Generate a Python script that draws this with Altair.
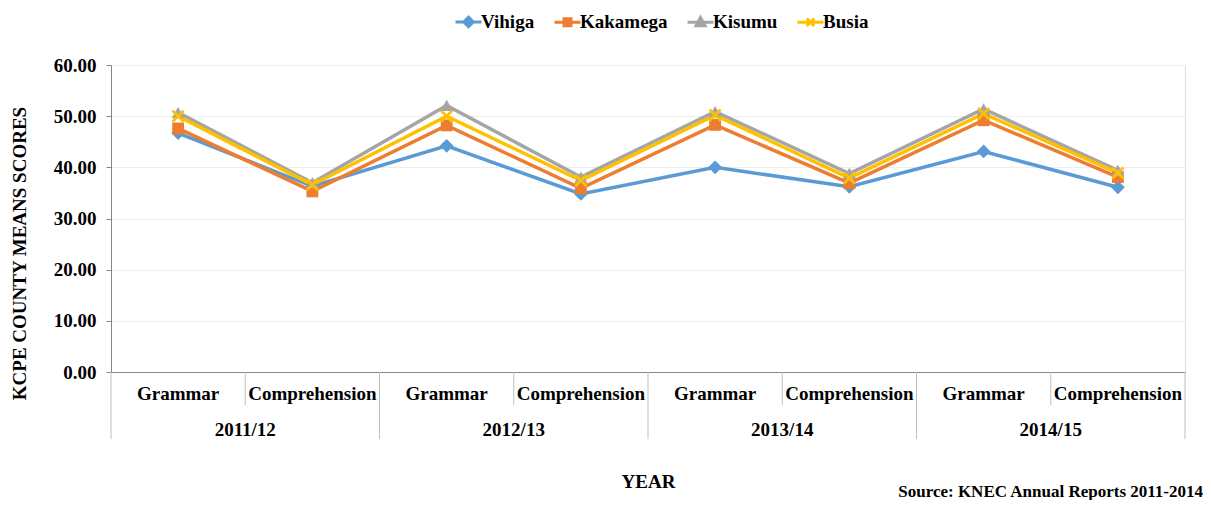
import altair as alt
import pandas as pd

# ---- data ----
series = ["Vihiga", "Kakamega", "Kisumu", "Busia"]
colors = ["#5B9BD5", "#ED7D31", "#A5A5A5", "#FFC000"]
categories = ["Grammar", "Comprehension", "Grammar", "Comprehension",
              "Grammar", "Comprehension", "Grammar", "Comprehension"]
cat_years = ["2011/12", "2011/12", "2012/13", "2012/13",
             "2013/14", "2013/14", "2014/15", "2014/15"]
vihiga = [46.7, 36.3, 44.2, 34.8, 40.0, 36.2, 43.1, 36.1]
kakamega = [47.6, 35.3, 48.2, 35.9, 48.3, 36.9, 49.2, 38.1]
kisumu = [50.7, 37.0, 52.1, 38.1, 50.9, 38.8, 51.4, 39.4]
busia = [50.0, 36.6, 50.0, 37.4, 50.2, 37.9, 50.5, 38.9]
y_ticks = [0, 10, 20, 30, 40, 50, 60]
source_text = "Source: KNEC Annual Reports 2011-2014"

values = {"Vihiga": vihiga, "Kakamega": kakamega, "Kisumu": kisumu, "Busia": busia}
rows = []
for s in series:
    for i, v in enumerate(values[s]):
        rows.append({"Series": s, "idx": i, "value": v,
                     "cat": categories[i], "year": cat_years[i]})
df = pd.DataFrame(rows)

cat_df = pd.DataFrame({"idx": list(range(len(categories))),
                       "cat": categories, "year": cat_years})

bounds = []
for i in range(len(categories) + 1):
    b = i - 0.5
    if i == 0 or i == len(categories) or cat_years[i] != cat_years[i - 1]:
        kind = "long"
    else:
        kind = "short"
    bounds.append({"b": b, "kind": kind})
bounds_df = pd.DataFrame(bounds)

W, H = 1074, 307
PAD_L, PAD_T, PAD_R, PAD_B = 103, 57, 18, 128
FONT = "Liberation Serif"
AX = "#868686"

xscale = alt.Scale(domain=[-0.5, len(categories) - 0.5], nice=False, zero=False)
xenc = alt.X("idx:Q", scale=xscale,
             axis=alt.Axis(labels=False, ticks=False, grid=False, domain=True,
                           domainColor=AX, title="YEAR", titleFont=FONT,
                           titleFontSize=19, titleFontWeight="bold",
                           titleColor="black", titleY=109,
                           titleBaseline="middle"))
yenc = alt.Y("value:Q", scale=alt.Scale(domain=[0, 60], nice=False),
             axis=alt.Axis(values=y_ticks, format=".2f", labelFont=FONT,
                           labelFontSize=19, labelFontWeight="bold",
                           labelColor="black", tickSize=5, tickColor=AX,
                           domainColor=AX, gridColor="#eeeeee", labelPadding=10,
                           title="KCPE COUNTY MEANS SCORES", titleFont=FONT,
                           titleFontSize=19, titleFontWeight="bold",
                           titleColor="black", titleX=-92, titleY=188,
                           titleAngle=-90, titleBaseline="middle"))

color_scale = alt.Scale(domain=series, range=colors)
x_path = "M-1,-0.7L-0.7,-1L0,-0.3L0.7,-1L1,-0.7L0.3,0L1,0.7L0.7,1L0,0.3L-0.7,1L-1,0.7L-0.3,0Z"
marker_shapes = ["diamond", "square", "triangle-up", x_path]
marker_sizes = [190, 140, 170, 170]

# legend symbols: a line through the marker
u = 2.6
legend_paths = [
    f"M-{u},0L{u},0M0,-0.95L0.95,0L0,0.95L-0.95,0Z",
    f"M-{u},0L{u},0M-0.7,-0.7H0.7V0.7H-0.7Z",
    f"M-{u},0L{u},0M0,-0.95L0.9,0.7H-0.9Z",
    f"M-{u},0L{u},0M-0.75,-0.75L0.75,0.75M0.75,-0.75L-0.75,0.75",
]
legend_shape_scale = alt.Scale(domain=series, range=legend_paths)

legend = alt.Legend(orient="none", legendX=348, legendY=-53,
                    direction="horizontal", title=None, labelFont=FONT,
                    labelFontSize=19, labelFontWeight="bold", labelColor="black",
                    symbolSize=100, symbolStrokeWidth=3, labelOffset=3,
                    columnPadding=13, padding=0, symbolOpacity=1)

long_rules = alt.Chart(bounds_df).transform_filter(alt.datum.kind == "long").mark_rule(
    color="#bfbfbf", strokeWidth=1).encode(
    x=alt.X("b:Q", scale=xscale), y=alt.value(H), y2=alt.value(H + 67))
short_rules = alt.Chart(bounds_df).transform_filter(alt.datum.kind == "short").mark_rule(
    color="#bfbfbf", strokeWidth=1).encode(
    x=alt.X("b:Q", scale=xscale), y=alt.value(H), y2=alt.value(H + 33))

cat_text = alt.Chart(cat_df).mark_text(
    font=FONT, fontSize=19, fontWeight="bold", color="black",
    baseline="middle").encode(x=alt.X("idx:Q", scale=xscale),
                              y=alt.value(H + 22), text="cat:N")
year_text = alt.Chart(cat_df).transform_aggregate(
    mid="mean(idx)", groupby=["year"]).mark_text(
    font=FONT, fontSize=19, fontWeight="bold", color="black",
    baseline="middle").encode(x=alt.X("mid:Q", scale=xscale),
                              y=alt.value(H + 58), text="year:N")

lines = alt.Chart(df).mark_line(strokeWidth=3.5).encode(
    x=xenc, y=yenc,
    color=alt.Color("Series:N", scale=color_scale, legend=None, sort=series),
    detail="Series:N")

point_layers = []
for s, c, shp, sz in zip(series, colors, marker_shapes, marker_sizes):
    point_layers.append(
        alt.Chart(df).transform_filter(alt.datum.Series == s).mark_point(
            filled=True, size=sz, opacity=1, color=c, shape=shp).encode(
            x=alt.X("idx:Q", scale=xscale), y=alt.Y("value:Q")))

# legend-only layer (its marks have zero size)
legend_layer = alt.Chart(df).mark_point(
    filled=True, size=0, strokeWidth=3, opacity=1).encode(
    x=alt.X("idx:Q", scale=xscale), y=alt.Y("value:Q"),
    fill=alt.Fill("Series:N", scale=color_scale, legend=legend, sort=series),
    stroke=alt.Stroke("Series:N", scale=color_scale, legend=legend, sort=series),
    shape=alt.Shape("Series:N", scale=legend_shape_scale, legend=legend, sort=series))

src = alt.Chart(pd.DataFrame({"t": [source_text]})).mark_text(
    font=FONT, fontSize=17, fontWeight="bold", color="black",
    align="right", baseline="alphabetic").encode(
    x=alt.value(W + PAD_R), y=alt.value(432), text="t:N")

chart = alt.layer(long_rules, short_rules, cat_text, year_text, legend_layer, lines,
                  *point_layers, src).properties(
    width=W, height=H,
    autosize=alt.AutoSizeParams(type="none"),
    padding={"left": PAD_L, "top": PAD_T, "right": PAD_R, "bottom": PAD_B},
).configure_view(stroke=None).configure(background="white")

chart.save("out.html", embed_options={"renderer": "svg", "actions": False})
